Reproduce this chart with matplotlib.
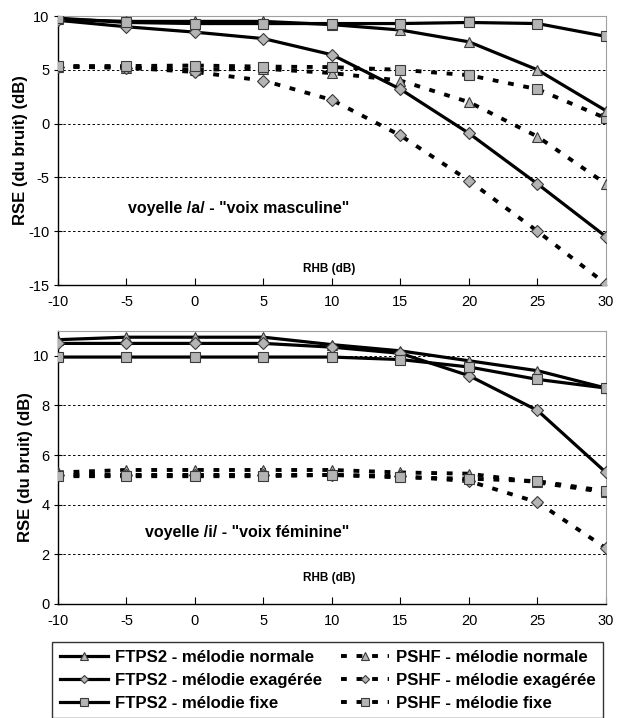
"""plot.py - RSE (du bruit) vs RHB, FTPS2 / PSHF."""

import matplotlib
matplotlib.use('Agg')
import matplotlib.pyplot as plt
from matplotlib.lines import Line2D

plt.rcParams['font.family'] = ['Liberation Sans', 'DejaVu Sans']
plt.rcParams['axes.unicode_minus'] = False

rhb = [-10, -5, 0, 5, 10, 15, 20, 25, 30]

# voyelle /a/ - voix masculine
a_ftps_normale = [9.7, 9.5, 9.5, 9.5, 9.2, 8.7, 7.6, 5.0, 1.2]
a_ftps_exageree = [9.6, 9.0, 8.5, 7.9, 6.4, 3.2, -0.9, -5.6, -10.5]
a_ftps_fixe = [9.8, 9.4, 9.3, 9.3, 9.3, 9.3, 9.4, 9.3, 8.1]
a_pshf_normale = [5.3, 5.2, 5.0, 5.1, 4.7, 4.0, 2.0, -1.2, -5.6]
a_pshf_exageree = [5.3, 5.2, 4.8, 4.0, 2.2, -1.1, -5.3, -10.0, -14.9]
a_pshf_fixe = [5.35, 5.35, 5.4, 5.3, 5.25, 5.0, 4.5, 3.2, 0.5]

# voyelle /i/ - voix feminine
i_ftps_normale = [10.65, 10.75, 10.75, 10.75, 10.45, 10.2, 9.8, 9.4, 8.7]
i_ftps_exageree = [10.5, 10.5, 10.5, 10.5, 10.35, 10.1, 9.2, 7.8, 5.3]
i_ftps_fixe = [9.95, 9.95, 9.95, 9.95, 9.95, 9.85, 9.55, 9.05, 8.7]
i_pshf_normale = [5.3, 5.4, 5.4, 5.4, 5.4, 5.3, 5.25, 4.9, 4.5]
i_pshf_exageree = [5.2, 5.2, 5.2, 5.2, 5.2, 5.15, 4.95, 4.1, 2.25]
i_pshf_fixe = [5.15, 5.15, 5.15, 5.15, 5.2, 5.1, 5.05, 4.95, 4.55]

labels = ['FTPS2 - mélodie normale', 'FTPS2 - mélodie exagérée',
          'FTPS2 - mélodie fixe', 'PSHF - mélodie normale',
          'PSHF - mélodie exagérée', 'PSHF - mélodie fixe']
markers = ['^', 'D', 's', '^', 'D', 's']
msizes = [7, 6, 7.5, 7, 6, 7.5]

GREY = '#b4b4b4'
DASH = (1.5, 2.5)


def drawSeries(ax, series):
    """Draw the six series."""
    for k, ys in enumerate(series):
        if k < 3:
            ax.plot(rhb, ys, color='black', lw=2.3, marker=markers[k],
                    ms=msizes[k], mfc=GREY, mec='#3a3a3a', mew=0.8,
                    zorder=4, solid_capstyle='butt')
        else:
            ax.plot(rhb, ys, color='black', lw=2.8, dashes=DASH,
                    dash_capstyle='butt', marker=markers[k], ms=msizes[k],
                    mfc=GREY, mec='#3a3a3a', mew=0.8, zorder=3)


def styleAxes(ax, ylim, yticks):
    """Excel like axes."""
    ax.set_xlim(-10, 30)
    ax.set_ylim(*ylim)
    ax.set_xticks(rhb)
    ax.set_yticks(yticks)
    ax.tick_params(axis='x', direction='in', length=5, labelsize=10.5, pad=7)
    ax.tick_params(axis='y', direction='inout', length=6, labelsize=10.5, pad=3)
    ax.grid(axis='y', color='black', linestyle=(0, (2.5, 2.5)), linewidth=0.7)
    ax.spines['top'].set_color('#a0a0a0')
    ax.spines['right'].set_color('#a0a0a0')
    ax.spines['left'].set_linewidth(1.0)
    ax.spines['bottom'].set_linewidth(1.0)
    ax.set_ylabel('RSE (du bruit) (dB)', fontsize=12, fontweight='bold',
                  labelpad=0)


fig = plt.figure(figsize=(6.22, 7.18), dpi=100)
ax1 = fig.add_axes([0.0932, 0.603, 0.881, 0.3747])
ax2 = fig.add_axes([0.0932, 0.1588, 0.881, 0.3802])

drawSeries(ax1, [a_ftps_normale, a_ftps_exageree, a_ftps_fixe,
                 a_pshf_normale, a_pshf_exageree, a_pshf_fixe])
styleAxes(ax1, (-15, 10), [-15, -10, -5, 0, 5, 10])
ax1.text(-4.9, -7.9, 'voyelle /a/ - "voix masculine"', fontsize=11.5,
         fontweight='bold', va='center')
ax1.text(7.9, -13.5, 'RHB (dB)', fontsize=8.5, fontweight='bold',
         va='center')

drawSeries(ax2, [i_ftps_normale, i_ftps_exageree, i_ftps_fixe,
                 i_pshf_normale, i_pshf_exageree, i_pshf_fixe])
styleAxes(ax2, (0, 11), [0, 2, 4, 6, 8, 10])
ax2.text(-3.65, 2.9, 'voyelle /i/ - "voix féminine"', fontsize=11.5,
         fontweight='bold', va='center')
ax2.text(7.9, 1.05, 'RHB (dB)', fontsize=8.5, fontweight='bold',
         va='center')

handles = []
for k in range(6):
    if k < 3:
        h = Line2D([], [], color='black', lw=2.3, marker=markers[k],
                   ms=msizes[k] - 1.5, mfc=GREY, mec='#3a3a3a', mew=0.8)
    else:
        h = Line2D([], [], color='black', lw=2.8, dashes=DASH,
                   dash_capstyle='butt', marker=markers[k],
                   ms=msizes[k] - 1.5, mfc=GREY, mec='#3a3a3a', mew=0.8)
    handles.append(h)

leg = fig.legend(handles, labels, ncol=2, loc='upper left',
                 bbox_to_anchor=(52 / 622, 1 - 642 / 718),
                 frameon=True, fancybox=False,
                 handlelength=2.9, handletextpad=0.4, labelspacing=0.48,
                 borderpad=0.45, borderaxespad=0, columnspacing=1.1,
                 prop={'size': 12.1, 'weight': 'bold'})
leg.get_frame().set_edgecolor('black')
leg.get_frame().set_linewidth(1.0)

fig.savefig('out.png', dpi=100)
